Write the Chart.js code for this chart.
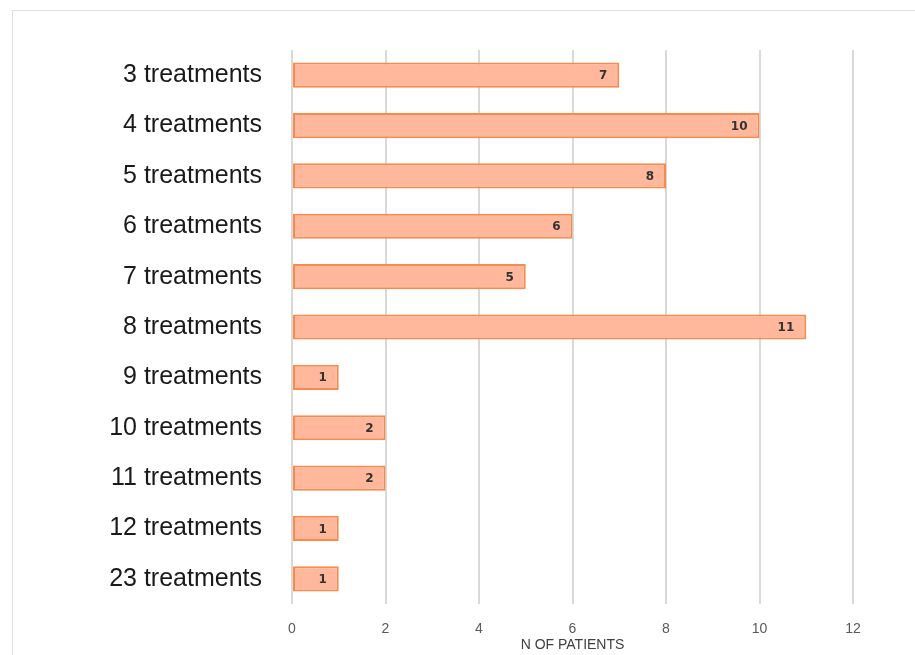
<!DOCTYPE html>
<html>
<head>
<meta charset="utf-8">
<script src="https://cdn.jsdelivr.net/npm/chart.js@4.4.0/dist/chart.umd.min.js"></script>
<style>
  html, body { margin: 0; padding: 0; background: #fff; }
  #wrap { position: relative; width: 915px; height: 655px; }
  #frame { position: absolute; left: 12px; top: 10px; right: -2px; bottom: -2px;
           border-left: 1px solid #e0e0e0; border-top: 1px solid #e0e0e0; }
  canvas { position: absolute; left: 0; top: 0; }
</style>
</head>
<body>
<div id="wrap">
  <div id="frame"></div>
  <canvas id="chart" width="915" height="655"></canvas>
</div>
<script>
// категории и значения
const categories = ["3 treatments", "4 treatments", "5 treatments", "6 treatments", "7 treatments",
  "8 treatments", "9 treatments", "10 treatments", "11 treatments", "12 treatments", "23 treatments"];
const patients = [7, 10, 8, 6, 5, 11, 1, 2, 2, 1, 1];
const xTicks = [0, 2, 4, 6, 8, 10, 12];
const xTitle = "N OF PATIENTS";

// подписи значений внутри конца столбца
const valueLabels = {
  id: "valueLabels",
  afterDatasetsDraw(chart) {
    const ctx = chart.ctx;
    const meta = chart.getDatasetMeta(0);
    ctx.save();
    ctx.font = "bold 12px 'DejaVu Sans', sans-serif";
    ctx.fillStyle = "#333";
    ctx.textAlign = "right";
    ctx.textBaseline = "middle";
    meta.data.forEach((bar, i) => {
      ctx.fillText(String(patients[i]), bar.x - 12, bar.y + 1);
    });
    ctx.restore();
  }
};

const ctx = document.getElementById("chart").getContext("2d");
new Chart(ctx, {
  type: "bar",
  data: {
    labels: categories,
    datasets: [{
      data: patients,
      backgroundColor: "#FFB89C",
      borderColor: "#F98A4C",
      borderWidth: 2,
      borderSkipped: false,
      barPercentage: 0.5,
      categoryPercentage: 1
    }]
  },
  options: {
    indexAxis: "y",
    responsive: false,
    animation: false,
    layout: { padding: { top: 50, right: 62, left: 0, bottom: 0 } },
    plugins: { legend: { display: false }, tooltip: { enabled: false } },
    scales: {
      x: {
        min: 0,
        max: 12,
        afterBuildTicks(scale) { scale.ticks = xTicks.map(v => ({ value: v })); },
        afterFit(scale) { scale.height = 51; },
        grid: { color: "#d9d9d9", lineWidth: 2, drawTicks: false },
        border: { display: false },
        ticks: { color: "#595959", font: { family: "'Liberation Sans', sans-serif", size: 14 }, padding: 17 },
        title: {
          display: true,
          text: xTitle,
          color: "#404040",
          font: { family: "'Liberation Sans', sans-serif", size: 14 },
          padding: { top: 0, bottom: 1 }
        }
      },
      y: {
        afterFit(scale) { scale.width = 292; },
        grid: { display: false },
        border: { display: false },
        ticks: { color: "#1a1a1a", font: { family: "'Liberation Sans', sans-serif", size: 25 }, padding: 22 }
      }
    }
  },
  plugins: [valueLabels]
});
</script>
</body>
</html>
